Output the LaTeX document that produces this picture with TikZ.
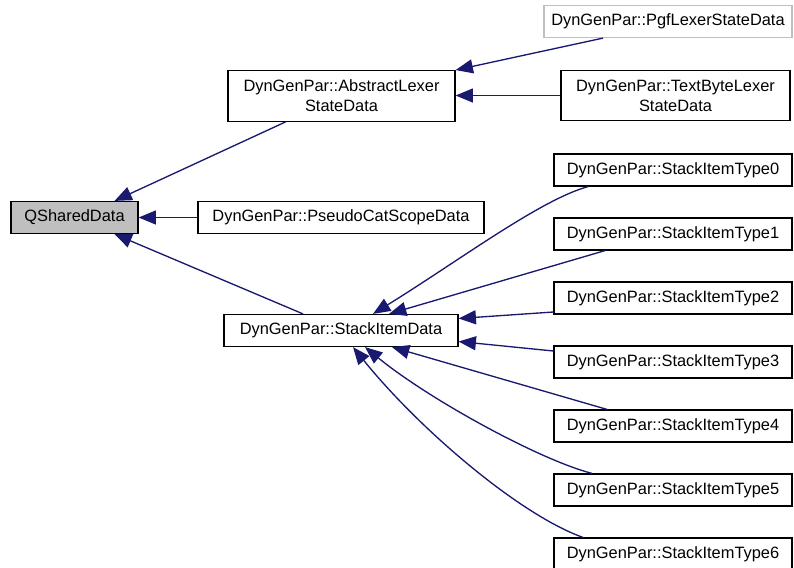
\documentclass[tikz,border=0pt]{standalone}
\usepackage{fontspec}
\setmainfont{Liberation Sans}
\usetikzlibrary{arrows.meta,calc}
\definecolor{edgeblue}{HTML}{191970}
\definecolor{boxgray}{HTML}{BFBFBF}
\tikzset{
 cls/.style={draw=black,line width=0.9pt,inner sep=0pt,minimum height=24pt,
   align=center,font=\fontsize{12.3}{15}\selectfont},
 cls2/.style={cls,minimum height=38pt},
 edge/.style={draw=edgeblue,line width=1pt,-{Triangle[length=13pt,width=10.5pt]}},
}

\begin{document}
\begin{tikzpicture}[x=0.75pt,y=-0.75pt]
 \useasboundingbox (0,0) rectangle (794,568);
 \node[cls,fill=boxgray,minimum width=95.25pt] (qs) at (74.5,217.5) {QSharedData};
 \node[cls2,minimum width=170.25pt] (ald) at (341.5,96) {DynGenPar::AbstractLexer\\StateData};
 \node[cls,minimum width=214.5pt] (pcs) at (341,217.5) {DynGenPar::PseudoCatScopeData};
 \node[cls,minimum width=175.5pt] (sid) at (341,330.5) {DynGenPar::StackItemData};
 \node[cls,draw=boxgray,minimum width=186pt] (pgf) at (668,21.5) {DynGenPar::PgfLexerStateData};
 \node[cls2,minimum width=171.75pt] (tbl) at (675.5,95.5) {DynGenPar::TextByteLexer\\StateData};
 \foreach \i in {0,...,6}
   \node[cls,minimum width=178.5pt] (t\i) at (673,170+64*\i) {DynGenPar::StackItemType\i};
 \draw[edge] ($(ald.south)+(-56,0)$) -- ($(qs.north)+(40,0)$);
 \draw[edge] (pcs.west) -- (qs.east);
 \draw[edge] ($(sid.north)+(-38,0)$) -- ($(qs.south)+(40,0)$);
 \draw[edge] ($(pgf.south)+(-65,0)$) -- (ald.north east);
 \draw[edge] (tbl.west) -- (tbl.west -| ald.east);
 \draw[edge] ($(t0.south)+(-85,0)$) .. controls (540,200) and (460,260) .. ($(sid.north)+(32,0)$);
 \draw[edge] ($(t1.south)+(-68,0)$) -- ($(sid.north)+(48,0)$);
 \draw[edge] ($(t2.west)+(0,14)$) -- ($(sid.east)+(0,-12)$);
 \draw[edge] ($(t3.west)+(0,-11)$) -- ($(sid.east)+(0,11)$);
 \draw[edge] ($(t4.north)+(-66,0)$) -- ($(sid.south)+(51,0)$);
 \draw[edge] ($(t5.north)+(-81,0)$) .. controls (540,460) and (430,400) .. ($(sid.south)+(24,0)$);
 \draw[edge] ($(t6.north)+(-90,0)$) .. controls (520,515) and (420,430) .. ($(sid.south)+(12,0)$);
\end{tikzpicture}
\end{document}
